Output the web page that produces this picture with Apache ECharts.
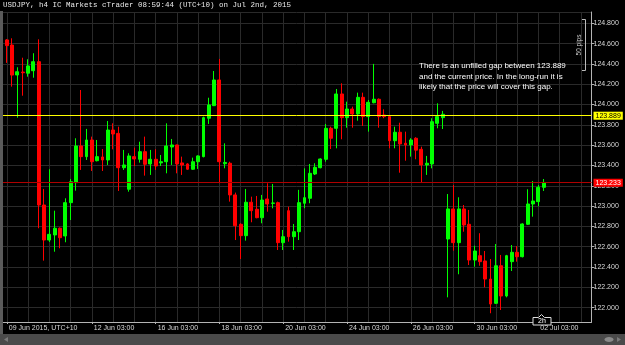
<!DOCTYPE html>
<html><head><meta charset="utf-8">
<script src="https://cdn.jsdelivr.net/npm/echarts@6/dist/echarts.min.js"></script>
<style>html,body{margin:0;padding:0;background:#000;}#c{width:625px;height:345px;}</style>
</head><body><div id="c"></div>
<script>
// USDJPY h4 candles (open, close, low, high), oldest first
const openP  = [124.636,124.586,124.291,124.320,124.308,124.333,124.422,123.011,122.666,122.716,
                122.782,122.706,123.034,123.231,123.592,123.487,123.651,123.447,123.484,123.454,
                123.749,123.716,123.378,123.166,123.487,123.461,123.536,123.415,123.461,123.425,
                123.437,123.582,123.602,123.425,123.415,123.363,123.437,123.487,123.865,123.989,
                124.242,123.417,123.422,123.110,122.821,122.709,123.038,122.969,122.886,123.070,
                123.027,123.034,122.640,122.955,122.699,122.748,123.028,123.077,123.316,123.378,
                123.461,123.766,123.766,124.104,123.871,123.956,123.907,124.071,123.881,124.018,
                124.052,123.897,123.881,123.644,123.727,123.619,123.602,123.668,123.559,123.405,
                123.415,123.815,123.871,122.676,122.972,122.640,122.972,122.821,122.469,122.512,
                122.460,122.282,122.043,122.413,122.115,122.453,122.545,122.502,122.821,123.021,
                123.044,123.185];
const closeP = [124.580,124.290,124.323,124.313,124.380,124.422,123.011,122.666,122.722,122.782,
                122.689,123.034,123.240,123.592,123.487,123.651,123.437,123.487,123.454,123.749,
                123.710,123.378,123.405,123.494,123.464,123.536,123.412,123.461,123.395,123.437,
                123.592,123.602,123.415,123.405,123.363,123.437,123.494,123.871,123.996,124.242,
                123.437,123.430,123.110,122.807,122.709,123.038,122.955,122.886,123.060,123.021,
                123.031,122.640,122.699,122.699,122.748,123.034,123.083,123.323,123.382,123.464,
                123.766,123.668,124.104,123.871,123.956,123.907,124.071,123.881,124.022,124.052,
                123.881,123.881,123.644,123.727,123.612,123.602,123.651,123.551,123.405,123.422,
                123.831,123.881,123.904,122.972,122.640,122.972,122.814,122.469,122.558,122.453,
                122.282,122.036,122.413,122.115,122.512,122.545,122.502,122.824,123.021,123.050,
                123.185,123.233];
const lowP   = [124.410,124.176,123.871,124.087,124.274,124.264,122.782,122.463,122.647,122.551,
                122.585,122.644,122.863,123.152,123.356,123.454,123.346,123.440,123.346,123.405,
                123.559,123.149,123.356,123.142,123.394,123.428,123.300,123.307,123.356,123.395,
                123.323,123.405,123.323,123.307,123.356,123.356,123.366,123.480,123.809,123.985,
                123.225,123.372,123.044,122.666,122.479,122.660,122.841,122.880,122.831,122.945,
                122.978,122.568,122.568,122.650,122.568,122.666,122.979,123.028,123.306,123.372,
                123.437,123.562,123.569,123.658,123.772,123.772,123.841,123.789,123.733,124.012,
                123.772,123.865,123.569,123.569,123.329,123.447,123.487,123.461,123.231,123.307,
                123.372,123.766,123.759,122.102,122.561,122.329,122.748,122.420,122.404,122.413,
                122.201,121.945,122.036,121.977,122.102,122.361,122.453,122.495,122.814,122.896,
                122.999,123.149];
const highP  = [124.645,124.652,124.367,124.461,124.446,124.505,124.642,123.169,123.363,122.955,
                122.790,123.077,123.267,123.668,124.143,123.760,123.684,123.651,123.562,123.838,
                123.815,123.782,123.553,123.520,123.575,123.634,123.684,123.553,123.560,123.503,
                123.815,123.661,123.605,123.487,123.422,123.477,123.500,123.881,124.067,124.330,
                124.449,123.618,123.437,123.133,122.831,123.169,123.093,123.100,123.110,123.225,
                123.218,123.044,122.765,122.994,122.824,123.160,123.372,123.415,123.422,123.470,
                123.809,123.782,124.153,124.209,124.028,123.979,124.117,124.117,124.045,124.400,
                124.060,123.953,123.897,123.782,123.821,123.733,123.668,123.678,123.585,123.494,
                123.865,124.012,123.937,123.119,123.208,123.087,123.011,122.962,122.610,122.733,
                122.558,122.479,122.627,122.519,122.520,122.617,122.607,122.831,123.166,123.247,
                123.208,123.267];
// x-axis tick labels (candle index -> text)
const tickIdx  = [0,16,28,40,52,64,76,88,100];
const tickText = ['09 Jun 2015, UTC+10','12 Jun 03:00','16 Jun 03:00','18 Jun 03:00','20 Jun 03:00',
                  '24 Jun 03:00','26 Jun 03:00','30 Jun 03:00','02 Jul 03:00'];
const gapLevel = 123.889;     // drawn horizontal level
const currentPrice = 123.233; // last close
const note = ['There is an unfilled gap between 123.889',
              'and the current price. In the long-run it is',
              'likely that the price will cover this gap.'];
const titleText = 'USDJPY, h4 IC Markets cTrader 08:59:44 (UTC+10) on Jul 2nd, 2015';

const LEAD = 1, TRAIL = 9;
const n = openP.length;
const total = LEAD + n + TRAIL;
const cats = [];
for (let i = 0; i < total; i++) cats.push('c' + i);
const candles = [];
for (let i = 0; i < LEAD; i++) candles.push('-');
for (let i = 0; i < n; i++) candles.push([openP[i], closeP[i], lowP[i], highP[i]]);
const labelMap = {};
tickIdx.forEach((k, j) => { labelMap[k + LEAD] = tickText[j]; });

const FONT = 'Liberation Sans';
const chart = echarts.init(document.getElementById('c'), null, {renderer: 'canvas'});
chart.setOption({
  animation: false,
  backgroundColor: '#000',
  grid: {left: 1.5, top: 12, width: 590, height: 310, containLabel: false},
  xAxis: {
    type: 'category', data: cats, boundaryGap: false,
    axisLine: {show: true, lineStyle: {color: '#b4b4b4', width: 1}},
    axisTick: {show: true, length: 2, interval: (i) => labelMap[i] !== undefined, lineStyle: {color: '#b4b4b4'}},
    axisLabel: {show: true, interval: (i) => labelMap[i] !== undefined, formatter: (v, i) => labelMap[i] || '',
      color: '#d8d8d8', fontSize: 7, fontFamily: FONT, align: 'left', margin: 3, padding: [0, 0, 0, 2]},
    splitLine: {show: true, interval: (i) => i >= LEAD && (i - LEAD) % 4 === 0, lineStyle: {color: '#2a2a2a', width: 1}}
  },
  yAxis: {
    type: 'value', position: 'right', scale: true,
    min: 121.859, max: 124.911, splitNumber: 15, minInterval: 0.2, maxInterval: 0.2,
    axisLine: {show: true, lineStyle: {color: '#b4b4b4', width: 1}},
    axisTick: {show: true, length: 3, lineStyle: {color: '#b4b4b4'}},
    axisLabel: {show: true, showMinLabel: false, showMaxLabel: false, formatter: (v) => v.toFixed(3),
      color: '#d8d8d8', fontSize: 7, fontFamily: FONT, margin: 2},
    splitLine: {show: true, lineStyle: {color: '#2a2a2a', width: 1}}
  },
  series: [{
    type: 'candlestick', data: candles, barWidth: 3.4,
    itemStyle: {color: '#00ff00', color0: '#ff0000', borderColor: '#00ff00', borderColor0: '#ff0000', borderWidth: 1},
    markLine: {
      symbol: ['none', 'none'], silent: true, animation: false,
      data: [
        {yAxis: gapLevel, lineStyle: {color: '#ffff00', width: 1, type: 'solid'},
         label: {show: true, position: 'end', formatter: gapLevel.toFixed(3), backgroundColor: '#ffff00',
           color: '#000', fontSize: 7, fontFamily: FONT, padding: [1, 2, 0, 2], distance: 2}},
        {yAxis: currentPrice, lineStyle: {color: '#b00000', width: 1, type: 'solid'},
         label: {show: true, position: 'end', formatter: currentPrice.toFixed(3), backgroundColor: '#ff0000',
           color: '#fff', fontSize: 7, fontFamily: FONT, padding: [1, 2, 0, 2], distance: 2}}
      ]
    }
  }],
  graphic: [
    {type: 'rect', shape: {x: 0, y: 11, width: 3, height: 323}, style: {fill: '#5a5a5a'}, z: 100},
    {type: 'rect', shape: {x: 0, y: 334, width: 625, height: 11}, style: {fill: '#4a4a4a'}, z: 100},
    {type: 'polygon', shape: {points: [[4, 339.5], [8, 337], [8, 342]]}, style: {fill: '#7a7a7a'}, z: 101},
    {type: 'polygon', shape: {points: [[621, 339.5], [617, 337], [617, 342]]}, style: {fill: '#7a7a7a'}, z: 101},
    {type: 'ellipse', shape: {cx: 609, cy: 339.5, rx: 4.5, ry: 2.5}, style: {fill: '#8a8a8a'}, z: 101},
    {type: 'text', x: 3, y: 1.5, style: {text: titleText, fill: '#e8e8e8', font: '7.5px "Liberation Mono"'}, z: 100},
    {type: 'text', x: 419, y: 61, style: {text: note.join('\n'), fill: '#ffffff', font: '8px ' + FONT, lineHeight: 10.5}, z: 100},
    {type: 'polyline', shape: {points: [[582, 19.5], [585.5, 19.5], [585.5, 70.5], [582, 70.5]]}, style: {stroke: '#bbbbbb', lineWidth: 1, fill: null}, z: 100},
    {type: 'text', x: 579.5, y: 45, rotation: Math.PI / 2, style: {text: '50 pips', fill: '#cccccc', font: '6.5px ' + FONT, align: 'center', verticalAlign: 'middle'}, z: 100},
    {type: 'polygon', shape: {points: [[533, 317.5], [538.5, 317.5], [541.5, 314.5], [544.5, 317.5], [551, 317.5], [551, 325], [533, 325]]},
     style: {stroke: '#dddddd', fill: '#000', lineWidth: 1}, z: 102},
    {type: 'text', x: 542, y: 321.5, style: {text: '2h', fill: '#ffffff', font: '7px ' + FONT, align: 'center', verticalAlign: 'middle'}, z: 103}
  ]
});
</script></body></html>
